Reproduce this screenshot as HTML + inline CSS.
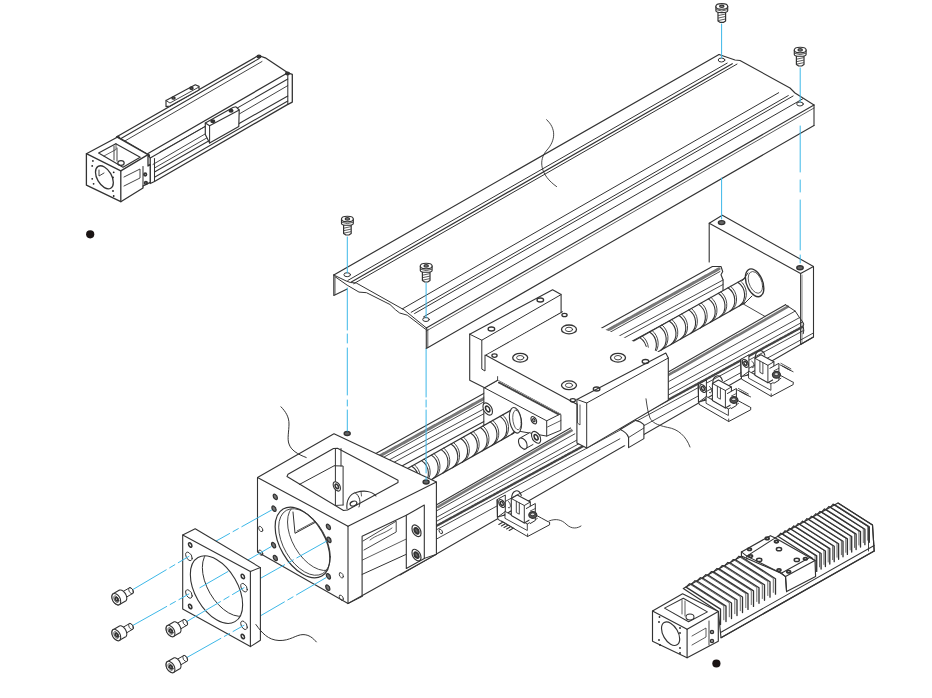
<!DOCTYPE html>
<html><head><meta charset="utf-8"><style>
html,body{margin:0;padding:0;background:#fff;}
body{width:932px;height:698px;overflow:hidden;position:relative;font-family:"Liberation Sans",sans-serif;}
svg{position:absolute;left:0;top:0;}
</style></head><body>
<svg width="932" height="698" viewBox="0 0 932 698" stroke-linecap="round" stroke-linejoin="round">
<path d="M333.8,275.0 L719.0,54.5" stroke="#333" stroke-width="1.2" fill="none"/>
<path d="M347.9,280.4 L727.2,63.1" stroke="#333" stroke-width="1.0" fill="none"/>
<path d="M350.9,282.2 L732.3,63.7" stroke="#333" stroke-width="1.2" fill="none"/>
<path d="M353.7,283.7 L737.0,64.1" stroke="#333" stroke-width="1.0" fill="none"/>
<path d="M402.3,308.9 L778.7,92.7" stroke="#333" stroke-width="1.0" fill="none"/>
<path d="M411.2,312.3 L788.3,95.6" stroke="#333" stroke-width="1.0" fill="none"/>
<path d="M414.6,313.5 L793.1,96.0" stroke="#333" stroke-width="1.0" fill="none"/>
<path d="M423.5,316.9 L802.6,98.9" stroke="#333" stroke-width="1.0" fill="none"/>
<path d="M426.3,331.0 L814.0,108.0" stroke="#333" stroke-width="0.8" fill="none"/>
<path d="M426.3,328.0 L814.0,105.0" stroke="#333" stroke-width="1.1" fill="none"/>
<path d="M814.0,105.0 L814.0,125.5" stroke="#333" stroke-width="1.1" fill="none"/>
<path d="M426.3,328.0 L426.3,348.5" stroke="#333" stroke-width="1.1" fill="none"/>
<path d="M427.8,329.0 L427.8,347.5" stroke="#333" stroke-width="0.8" fill="none"/>
<path d="M426.3,348.5 L814.0,125.5" stroke="#333" stroke-width="1.1" fill="none"/>
<path d="M719.0,54.5 L735.0,60.0 L740.0,60.5 L790.0,88.0 L795.0,93.0 L814.0,105.0" stroke="#333" stroke-width="1.1" fill="none"/>
<path d="M333.8,275.0 L333.8,295.4 L347.2,288.9" stroke="#333" stroke-width="1.1" fill="none"/>
<path d="M335.0,277.0 L335.0,294.3" stroke="#333" stroke-width="0.8" fill="none"/>
<path d="M333.8,275.0 L346.0,280.9 L350.4,282.5 L356.3,283.0 L404.0,309.8 L426.6,328.1" stroke="#333" stroke-width="1.0" fill="none"/>
<path d="M334.8,276.5 L347.2,285.2 L359.0,292.1 L366.5,292.7 L390.0,304.5 L395.5,309.8 L399.7,313.0 L407.3,315.2 L425.5,329.2" stroke="#333" stroke-width="1.0" fill="none"/>
<ellipse cx="347.2" cy="274.7" rx="3.3" ry="2.0" transform="rotate(0 347.2 274.7)" stroke="#333" stroke-width="1.0" fill="none"/>
<ellipse cx="426.0" cy="319.5" rx="3.3" ry="2.0" transform="rotate(0 426.0 319.5)" stroke="#333" stroke-width="1.0" fill="none"/>
<ellipse cx="721.5" cy="60.0" rx="3.3" ry="2.0" transform="rotate(0 721.5 60.0)" stroke="#333" stroke-width="1.0" fill="none"/>
<ellipse cx="800.0" cy="104.0" rx="3.3" ry="2.0" transform="rotate(0 800.0 104.0)" stroke="#333" stroke-width="1.0" fill="none"/>
<path d="M546.6,119.7 C556,128 556,140 547,150 C538,160 540,175 556.6,186.6" stroke="#333" stroke-width="0.9" fill="none"/>
<path d="M709.2,223.2 L722.3,215.2 L813.5,266.5 L813.5,337.0 L800.6,344.5 L709.2,290.0 L709.2,223.2Z" stroke="none" stroke-width="0" fill="#fff"/>
<path d="M709.2,262.0 L709.2,223.2 L722.3,215.2 L813.5,266.5 L813.5,337.0 L800.6,344.5" stroke="#333" stroke-width="1.1" fill="none"/>
<path d="M709.2,223.2 L800.6,273.5 L813.5,266.5" stroke="#333" stroke-width="1.1" fill="none"/>
<path d="M800.6,273.5 L800.6,344.5" stroke="#333" stroke-width="1.0" fill="none"/>
<path d="M802.0,275.0 L802.0,343.0" stroke="#333" stroke-width="0.6" fill="none"/>
<ellipse cx="721.6" cy="222.6" rx="3.2" ry="2.0" transform="rotate(0 721.6 222.6)" stroke="#333" stroke-width="1.4" fill="#666"/>
<ellipse cx="800.0" cy="267.7" rx="3.2" ry="2.0" transform="rotate(0 800.0 267.7)" stroke="#333" stroke-width="1.4" fill="#666"/>
<path d="M330.0,478.9 L712.4,266.5 L721.0,266.5 L722.7,271.5 L721.0,274.7 L723.1,280.0 L723.0,292.0 L330.0,504.9Z" stroke="#333" stroke-width="1.1" fill="#fff"/>
<path d="M330,483.4 L719,268.8" stroke="#777" stroke-width="3.0" stroke-dasharray="1.0 1.0" fill="none"/>
<path d="M330.0,486.9 L720.0,271.5" stroke="#333" stroke-width="0.9" fill="none"/>
<path d="M330.0,491.9 L723.0,280.0" stroke="#333" stroke-width="0.9" fill="none"/>
<path d="M330.0,496.9 L723.0,284.5" stroke="#333" stroke-width="0.9" fill="none"/>
<path d="M742.6,303.6 L765.1,316.5" stroke="#333" stroke-width="0.9" fill="none"/>
<path d="M628.0,344.2 L745.0,278.2 L745.0,302.7 L628.0,368.7Z" stroke="none" stroke-width="0" fill="#fff"/>
<path d="M628.0,344.2 L745.0,278.2" stroke="#333" stroke-width="1.1" fill="none"/>
<path d="M628.0,368.7 L745.0,302.7" stroke="#333" stroke-width="1.1" fill="none"/>
<path d="M630.0,343.1 C638.0,348.5 639.5,360.6 631.5,366.7" stroke="#333" stroke-width="1.1" fill="none"/>
<path d="M632.6,341.6 C639.6,347.0 641.1,359.1 634.1,365.3" stroke="#333" stroke-width="0.9" fill="none"/>
<path d="M639.8,337.6 C647.8,342.9 649.3,355.1 641.3,361.2" stroke="#333" stroke-width="1.1" fill="none"/>
<path d="M642.4,336.1 C649.4,341.5 650.9,353.6 643.9,359.7" stroke="#333" stroke-width="0.9" fill="none"/>
<path d="M649.6,332.0 C657.6,337.4 659.1,349.6 651.1,355.7" stroke="#333" stroke-width="1.1" fill="none"/>
<path d="M652.2,330.6 C659.2,336.0 660.7,348.1 653.7,354.2" stroke="#333" stroke-width="0.9" fill="none"/>
<path d="M659.4,326.5 C667.4,331.9 668.9,344.0 660.9,350.2" stroke="#333" stroke-width="1.1" fill="none"/>
<path d="M662.0,325.0 C669.0,330.4 670.5,342.6 663.5,348.7" stroke="#333" stroke-width="0.9" fill="none"/>
<path d="M669.2,321.0 C677.2,326.4 678.7,338.5 670.7,344.6" stroke="#333" stroke-width="1.1" fill="none"/>
<path d="M671.8,319.5 C678.8,324.9 680.3,337.0 673.3,343.2" stroke="#333" stroke-width="0.9" fill="none"/>
<path d="M679.0,315.5 C687.0,320.8 688.5,333.0 680.5,339.1" stroke="#333" stroke-width="1.1" fill="none"/>
<path d="M681.6,314.0 C688.6,319.4 690.1,331.5 683.1,337.6" stroke="#333" stroke-width="0.9" fill="none"/>
<path d="M688.8,309.9 C696.8,315.3 698.3,327.5 690.3,333.6" stroke="#333" stroke-width="1.1" fill="none"/>
<path d="M691.4,308.5 C698.4,313.8 699.9,326.0 692.9,332.1" stroke="#333" stroke-width="0.9" fill="none"/>
<path d="M698.6,304.4 C706.6,309.8 708.1,321.9 700.1,328.1" stroke="#333" stroke-width="1.1" fill="none"/>
<path d="M701.2,302.9 C708.2,308.3 709.7,320.5 702.7,326.6" stroke="#333" stroke-width="0.9" fill="none"/>
<path d="M708.4,298.9 C716.4,304.3 717.9,316.4 709.9,322.5" stroke="#333" stroke-width="1.1" fill="none"/>
<path d="M711.0,297.4 C718.0,302.8 719.5,314.9 712.5,321.1" stroke="#333" stroke-width="0.9" fill="none"/>
<path d="M718.2,293.3 C726.2,298.7 727.7,310.9 719.7,317.0" stroke="#333" stroke-width="1.1" fill="none"/>
<path d="M720.8,291.9 C727.8,297.3 729.3,309.4 722.3,315.5" stroke="#333" stroke-width="0.9" fill="none"/>
<path d="M728.0,287.8 C736.0,293.2 737.5,305.3 729.5,311.5" stroke="#333" stroke-width="1.1" fill="none"/>
<path d="M730.6,286.3 C737.6,291.7 739.1,303.9 732.1,310.0" stroke="#333" stroke-width="0.9" fill="none"/>
<path d="M737.8,282.3 C745.8,287.7 747.3,299.8 739.3,305.9" stroke="#333" stroke-width="1.1" fill="none"/>
<path d="M740.4,280.8 C747.4,286.2 748.9,298.3 741.9,304.5" stroke="#333" stroke-width="0.9" fill="none"/>
<circle cx="0" cy="0" r="12.80" transform="matrix(0.720 0.420 0.000 1.000 754.6 282.8)" stroke="#333" stroke-width="1.4" fill="#fff" vector-effect="non-scaling-stroke"/>
<circle cx="0" cy="0" r="10.00" transform="matrix(0.720 0.420 0.000 1.000 755.4 282.4)" stroke="#333" stroke-width="0.8" fill="none" vector-effect="non-scaling-stroke"/>
<path d="M742.6,280.5 L748.0,273.0" stroke="#333" stroke-width="1.0" fill="none"/>
<path d="M744.5,303.5 L752.0,296.0" stroke="#333" stroke-width="1.0" fill="none"/>
<path d="M400.0,525.8 L785.5,304.7" stroke="#333" stroke-width="1.1" fill="none"/>
<path d="M438,506.8 L788,306.6" stroke="#777" stroke-width="2.6" stroke-dasharray="1.0 1.0" fill="none"/>
<path d="M785.5,304.7 L795.2,311.1 L799.5,317.6 L802.7,321.9 L803.8,324.0 L803.2,326.2 L803.8,330.5 L803.2,333.7" stroke="#333" stroke-width="1.0" fill="none"/>
<path d="M400.0,531.2 L795.2,311.1" stroke="#333" stroke-width="0.9" fill="none"/>
<path d="M400.0,537.4 L799.5,317.6" stroke="#333" stroke-width="0.9" fill="none"/>
<path d="M400.0,541.2 L802.7,321.9" stroke="#333" stroke-width="0.9" fill="none"/>
<path d="M400,545.7 L803,326.5" stroke="#444" stroke-width="2.4" stroke-dasharray="0.8 1.0" fill="none"/>
<path d="M400.0,549.6 L803.5,330.5" stroke="#333" stroke-width="0.9" fill="none"/>
<path d="M400.0,559.0 L813.4,333.0" stroke="#333" stroke-width="0.9" fill="none"/>
<path d="M400.0,574.9 L813.4,337.0" stroke="#333" stroke-width="1.1" fill="none"/>
<path d="M484.2,387.7 L498.3,380.0 L560.9,413.7 L560.9,430.2 L546.7,436.1 L484.2,425.0Z" stroke="#333" stroke-width="1.0" fill="#fff"/>
<path d="M484.2,387.7 L546.7,420.8 L560.9,413.7" stroke="#333" stroke-width="1.0" fill="none"/>
<path d="M546.7,420.8 L546.7,436.1" stroke="#333" stroke-width="1.0" fill="none"/>
<path d="M547.5,427.0 L560.9,420.5" stroke="#333" stroke-width="0.8" fill="none"/>
<path d="M499,382.5 L559,414.5" stroke="#444" stroke-width="2.0" stroke-dasharray="0.8 1.0" fill="none"/>
<circle cx="0" cy="0" r="5.50" transform="matrix(0.866 0.500 0.000 1.000 487.7 409.0)" stroke="#333" stroke-width="1.1" fill="#fff" vector-effect="non-scaling-stroke"/>
<circle cx="0" cy="0" r="2.60" transform="matrix(0.866 0.500 0.000 1.000 487.7 409.0)" stroke="#333" stroke-width="1.6" fill="none" vector-effect="non-scaling-stroke"/>
<circle cx="0" cy="0" r="3.30" transform="matrix(0.866 0.500 0.000 1.000 533.8 420.2)" stroke="#333" stroke-width="1.1" fill="none" vector-effect="non-scaling-stroke"/>
<circle cx="0" cy="0" r="1.40" transform="matrix(0.866 0.500 0.000 1.000 533.8 420.2)" stroke="#333" stroke-width="1.2" fill="none" vector-effect="non-scaling-stroke"/>
<circle cx="0" cy="0" r="5.30" transform="matrix(0.866 0.500 0.000 1.000 536.1 437.3)" stroke="#333" stroke-width="1.1" fill="#fff" vector-effect="non-scaling-stroke"/>
<circle cx="0" cy="0" r="2.40" transform="matrix(0.866 0.500 0.000 1.000 536.1 437.3)" stroke="#333" stroke-width="1.6" fill="none" vector-effect="non-scaling-stroke"/>
<path d="M521.0,437.5 L530.0,432.5 L533.0,445.0 L524.0,449.5Z" stroke="none" stroke-width="0" fill="#fff"/>
<path d="M521.0,437.5 L530.0,432.5" stroke="#333" stroke-width="1.0" fill="none"/>
<path d="M524.0,449.5 L533.0,444.5" stroke="#333" stroke-width="1.0" fill="none"/>
<circle cx="0" cy="0" r="5.00" transform="matrix(0.866 0.500 0.000 1.000 522.8 443.5)" stroke="#333" stroke-width="1.1" fill="#fff" vector-effect="non-scaling-stroke"/>
<path d="M400.0,472.8 L514.0,408.5 L514.0,433.0 L400.0,497.3Z" stroke="none" stroke-width="0" fill="#fff"/>
<path d="M400.0,472.8 L514.0,408.5" stroke="#333" stroke-width="1.1" fill="none"/>
<path d="M400.0,497.3 L514.0,433.0" stroke="#333" stroke-width="1.1" fill="none"/>
<path d="M402.0,471.7 C410.0,477.1 411.5,489.2 403.5,495.3" stroke="#333" stroke-width="1.1" fill="none"/>
<path d="M404.6,470.2 C411.6,475.6 413.1,487.7 406.1,493.9" stroke="#333" stroke-width="0.9" fill="none"/>
<path d="M411.8,466.2 C419.8,471.5 421.3,483.7 413.3,489.8" stroke="#333" stroke-width="1.1" fill="none"/>
<path d="M414.4,464.7 C421.4,470.1 422.9,482.2 415.9,488.3" stroke="#333" stroke-width="0.9" fill="none"/>
<path d="M421.6,460.6 C429.6,466.0 431.1,478.2 423.1,484.3" stroke="#333" stroke-width="1.1" fill="none"/>
<path d="M424.2,459.2 C431.2,464.5 432.7,476.7 425.7,482.8" stroke="#333" stroke-width="0.9" fill="none"/>
<path d="M431.4,455.1 C439.4,460.5 440.9,472.6 432.9,478.8" stroke="#333" stroke-width="1.1" fill="none"/>
<path d="M434.0,453.6 C441.0,459.0 442.5,471.2 435.5,477.3" stroke="#333" stroke-width="0.9" fill="none"/>
<path d="M441.2,449.6 C449.2,455.0 450.7,467.1 442.7,473.2" stroke="#333" stroke-width="1.1" fill="none"/>
<path d="M443.8,448.1 C450.8,453.5 452.3,465.6 445.3,471.8" stroke="#333" stroke-width="0.9" fill="none"/>
<path d="M451.0,444.0 C459.0,449.4 460.5,461.6 452.5,467.7" stroke="#333" stroke-width="1.1" fill="none"/>
<path d="M453.6,442.6 C460.6,448.0 462.1,460.1 455.1,466.2" stroke="#333" stroke-width="0.9" fill="none"/>
<path d="M460.8,438.5 C468.8,443.9 470.3,456.0 462.3,462.2" stroke="#333" stroke-width="1.1" fill="none"/>
<path d="M463.4,437.0 C470.4,442.4 471.9,454.6 464.9,460.7" stroke="#333" stroke-width="0.9" fill="none"/>
<path d="M470.6,433.0 C478.6,438.4 480.1,450.5 472.1,456.6" stroke="#333" stroke-width="1.1" fill="none"/>
<path d="M473.2,431.5 C480.2,436.9 481.7,449.1 474.7,455.2" stroke="#333" stroke-width="0.9" fill="none"/>
<path d="M480.4,427.5 C488.4,432.9 489.9,445.0 481.9,451.1" stroke="#333" stroke-width="1.1" fill="none"/>
<path d="M483.0,426.0 C490.0,431.4 491.5,443.5 484.5,449.6" stroke="#333" stroke-width="0.9" fill="none"/>
<path d="M490.2,421.9 C498.2,427.3 499.7,439.5 491.7,445.6" stroke="#333" stroke-width="1.1" fill="none"/>
<path d="M492.8,420.5 C499.8,425.9 501.3,438.0 494.3,444.1" stroke="#333" stroke-width="0.9" fill="none"/>
<path d="M500.0,416.4 C508.0,421.8 509.5,433.9 501.5,440.1" stroke="#333" stroke-width="1.1" fill="none"/>
<path d="M502.6,414.9 C509.6,420.3 511.1,432.5 504.1,438.6" stroke="#333" stroke-width="0.9" fill="none"/>
<path d="M509.8,410.9 C517.8,416.3 519.3,428.4 511.3,434.5" stroke="#333" stroke-width="1.1" fill="none"/>
<path d="M512.4,409.4 C519.4,414.8 520.9,426.9 513.9,433.1" stroke="#333" stroke-width="0.9" fill="none"/>
<circle cx="0" cy="0" r="12.30" transform="matrix(0.500 0.290 0.000 1.000 515.5 420.3)" stroke="#333" stroke-width="1.1" fill="#fff" vector-effect="non-scaling-stroke"/>
<circle cx="0" cy="0" r="9.50" transform="matrix(0.450 0.260 0.000 1.000 517.0 420.0)" stroke="#333" stroke-width="0.8" fill="none" vector-effect="non-scaling-stroke"/>
<path d="M485.5,355.1 L562.3,311.7 L667.0,355.5 L667.0,400.0 L576.9,436.0 L560.9,413.7 L498.3,380.0 L484.6,387.7 L484.6,355.1Z" stroke="none" stroke-width="0" fill="#fff"/>
<path d="M485.5,355.1 L562.3,311.7" stroke="#333" stroke-width="1.1" fill="none"/>
<path d="M485.5,355.1 L576.9,404.2" stroke="#333" stroke-width="1.1" fill="none"/>
<path d="M497.6,376.6 L497.6,380.3" stroke="#333" stroke-width="0.9" fill="none"/>
<path d="M469.7,334.2 L552.6,289.7 L561.1,294.6 L561.1,311.7 L485.0,355.1 L485.0,371.0 L481.8,369.1 L484.6,387.7 L469.7,380.3Z" stroke="none" stroke-width="0" fill="#fff"/>
<path d="M469.7,334.2 L552.6,289.7 L561.1,294.6 L561.1,311.7" stroke="#333" stroke-width="1.1" fill="none"/>
<path d="M469.7,334.2 L481.8,340.2 L561.1,294.6" stroke="#333" stroke-width="1.0" fill="none"/>
<path d="M469.7,334.2 L469.7,380.3 L484.6,387.7 L497.6,380.3" stroke="#333" stroke-width="1.1" fill="none"/>
<path d="M481.8,340.2 L481.8,369.1 L485.0,371.0 L485.0,355.1" stroke="#333" stroke-width="1.0" fill="none"/>
<ellipse cx="491.4" cy="329.0" rx="3.3" ry="2.0" transform="rotate(0 491.4 329.0)" stroke="#333" stroke-width="1.3" fill="none"/>
<ellipse cx="540.3" cy="300.0" rx="3.3" ry="2.0" transform="rotate(0 540.3 300.0)" stroke="#333" stroke-width="1.3" fill="none"/>
<ellipse cx="569.0" cy="329.4" rx="7.5" ry="4.4" transform="rotate(0 569.0 329.4)" stroke="#333" stroke-width="1.3" fill="none"/>
<ellipse cx="569.0" cy="329.4" rx="3.6" ry="2.2" transform="rotate(0 569.0 329.4)" stroke="#333" stroke-width="0.9" fill="none"/>
<ellipse cx="520.2" cy="357.7" rx="7.5" ry="4.4" transform="rotate(0 520.2 357.7)" stroke="#333" stroke-width="1.3" fill="none"/>
<ellipse cx="520.2" cy="357.7" rx="3.6" ry="2.2" transform="rotate(0 520.2 357.7)" stroke="#333" stroke-width="0.9" fill="none"/>
<ellipse cx="618.0" cy="357.7" rx="7.5" ry="4.4" transform="rotate(0 618.0 357.7)" stroke="#333" stroke-width="1.3" fill="none"/>
<ellipse cx="618.0" cy="357.7" rx="3.6" ry="2.2" transform="rotate(0 618.0 357.7)" stroke="#333" stroke-width="0.9" fill="none"/>
<ellipse cx="569.0" cy="385.3" rx="7.5" ry="4.4" transform="rotate(0 569.0 385.3)" stroke="#333" stroke-width="1.3" fill="none"/>
<ellipse cx="569.0" cy="385.3" rx="3.6" ry="2.2" transform="rotate(0 569.0 385.3)" stroke="#333" stroke-width="0.9" fill="none"/>
<ellipse cx="564.5" cy="315.0" rx="2.6" ry="1.7" transform="rotate(0 564.5 315.0)" stroke="#333" stroke-width="1.3" fill="none"/>
<ellipse cx="494.5" cy="355.6" rx="2.6" ry="1.7" transform="rotate(0 494.5 355.6)" stroke="#333" stroke-width="1.3" fill="none"/>
<ellipse cx="572.8" cy="400.3" rx="2.6" ry="1.7" transform="rotate(0 572.8 400.3)" stroke="#333" stroke-width="1.3" fill="none"/>
<path d="M576.9,399.4 L665.8,353.1 L668.3,358.0 L668.3,400.3 L586.7,448.1 L576.9,443.0Z" stroke="#333" stroke-width="1.1" fill="#fff"/>
<path d="M576.9,399.4 L586.7,403.0 L668.3,358.0" stroke="#333" stroke-width="1.0" fill="none"/>
<path d="M586.7,403.0 L586.7,448.1" stroke="#333" stroke-width="1.0" fill="none"/>
<path d="M577.5,404.0 L577.5,423.0 L580.0,425.0 L580.0,405.0" stroke="#333" stroke-width="0.8" fill="none"/>
<ellipse cx="645.5" cy="361.5" rx="3.3" ry="2.0" transform="rotate(0 645.5 361.5)" stroke="#333" stroke-width="1.3" fill="none"/>
<ellipse cx="596.6" cy="389.0" rx="3.3" ry="2.0" transform="rotate(0 596.6 389.0)" stroke="#333" stroke-width="1.3" fill="none"/>
<path d="M620.2,429.5 L635.6,420.4 L643.9,424.6 L643.9,438.6 L628.6,447.6 L620.2,443.0Z" stroke="none" stroke-width="0" fill="#fff"/>
<path d="M620.2,429.5 L635.6,420.4 Q641,421.5 643.9,424.6 L643.9,438.6 L628.6,447.6 L628.6,437.5 Q627,432.5 620.2,429.5" stroke="#333" stroke-width="1.1" fill="none"/>
<path d="M628.6,437.5 L643.9,428.0" stroke="#333" stroke-width="0.9" fill="none"/>
<path d="M646,398.8 C647,406 648,413 650,418 C652,422 656,425 667.6,427.4 C678,429 686,436 690,447" stroke="#333" stroke-width="0.9" fill="none"/>
<path d="M741.5,376.8 L771.2,393.8 L793.2,382.3 L784.9,377.8 L770.9,370.3Z" stroke="#333" stroke-width="1.0" fill="#fff"/>
<path d="M741.5,376.8 L741.5,379.1 L771.2,396.3 L793.2,384.6 L793.2,382.3" stroke="#333" stroke-width="1.0" fill="#fff"/>
<path d="M771.2,393.8 L771.2,396.3" stroke="#333" stroke-width="0.9" fill="none"/>
<path d="M740.9,359.3 L748.9,354.8 L748.9,371.3 L741.5,376.8Z" stroke="#333" stroke-width="1.0" fill="#fff"/>
<path d="M740.9,359.3 L740.9,376.8" stroke="#333" stroke-width="1.0" fill="none"/>
<circle cx="0" cy="0" r="3.60" transform="matrix(0.866 0.500 0.000 1.000 745.4 363.3)" stroke="#333" stroke-width="1.1" fill="#fff" vector-effect="non-scaling-stroke"/>
<circle cx="0" cy="0" r="1.80" transform="matrix(0.866 0.500 0.000 1.000 745.4 363.3)" stroke="#333" stroke-width="1.5" fill="none" vector-effect="non-scaling-stroke"/>
<path d="M748.9,371.3 L770.9,383.8 L770.9,390.3 L748.9,378.3Z" stroke="#333" stroke-width="0.9" fill="#fff"/>
<path d="M770.9,383.8 L780.9,378.3" stroke="#333" stroke-width="0.9" fill="none"/>
<path d="M754.9,358.3 L760.9,354.8 L773.9,361.8 L773.9,379.3 L767.9,382.8 L754.9,375.3Z" stroke="#333" stroke-width="1.05" fill="#fff"/>
<path d="M754.9,358.3 L767.9,365.3 L773.9,361.8" stroke="#333" stroke-width="0.95" fill="none"/>
<path d="M767.9,365.3 L767.9,382.8" stroke="#333" stroke-width="0.95" fill="none"/>
<path d="M759.9,361.1 L759.9,372.3 L762.9,374.0 L762.9,362.8" stroke="#333" stroke-width="0.9" fill="none"/>
<path d="M769.9,368.3 L778.9,363.3 L778.9,380.3 L773.9,383.3" stroke="#333" stroke-width="1.0" fill="#fff"/>
<path d="M773.9,370.8 L778.9,368.3" stroke="#333" stroke-width="0.8" fill="none"/>
<path d="M755.4,358.3 C754.9,350.3 762.9,347.3 764.9,355.3" stroke="#333" stroke-width="1.1" fill="none"/>
<path d="M751.9,361.3 L752.3,361.6 L752.7,362.0 L753.1,362.5 L753.4,363.0 L753.6,363.6 L753.8,364.3 L754.0,364.9 L754.0,365.5 L754.0,366.1 L753.8,366.6 L753.6,367.0 L753.4,367.3 L753.1,367.5 L752.7,367.5 L752.3,367.5 L751.9,367.3" stroke="#333" stroke-width="1.0" fill="none"/>
<ellipse cx="776.4" cy="374.8" rx="4.0" ry="3.4" transform="rotate(0 776.4 374.8)" stroke="#333" stroke-width="1.2" fill="#555"/>
<ellipse cx="776.4" cy="374.1" rx="2.4" ry="1.4" transform="rotate(0 776.4 374.1)" stroke="#333" stroke-width="0.9" fill="#ddd"/>
<line x1="779.9" y1="364.8" x2="785.9" y2="367.8" stroke="#333" stroke-width="0.9"/>
<line x1="782.3" y1="366.1" x2="788.3" y2="369.1" stroke="#333" stroke-width="0.9"/>
<line x1="784.7" y1="367.4" x2="790.7" y2="370.4" stroke="#333" stroke-width="0.9"/>
<line x1="787.1" y1="368.7" x2="793.1" y2="371.7" stroke="#333" stroke-width="0.9"/>
<path d="M780.9,363.3 L790.9,368.8" stroke="#333" stroke-width="0.8" fill="none"/>
<path d="M699.0,402.0 L728.7,419.0 L750.7,407.5 L742.4,403.0 L728.4,395.5Z" stroke="#333" stroke-width="1.0" fill="#fff"/>
<path d="M699.0,402.0 L699.0,404.3 L728.7,421.5 L750.7,409.8 L750.7,407.5" stroke="#333" stroke-width="1.0" fill="#fff"/>
<path d="M728.7,419.0 L728.7,421.5" stroke="#333" stroke-width="0.9" fill="none"/>
<path d="M698.4,384.5 L706.4,380.0 L706.4,396.5 L699.0,402.0Z" stroke="#333" stroke-width="1.0" fill="#fff"/>
<path d="M698.4,384.5 L698.4,402.0" stroke="#333" stroke-width="1.0" fill="none"/>
<circle cx="0" cy="0" r="3.60" transform="matrix(0.866 0.500 0.000 1.000 702.9 388.5)" stroke="#333" stroke-width="1.1" fill="#fff" vector-effect="non-scaling-stroke"/>
<circle cx="0" cy="0" r="1.80" transform="matrix(0.866 0.500 0.000 1.000 702.9 388.5)" stroke="#333" stroke-width="1.5" fill="none" vector-effect="non-scaling-stroke"/>
<path d="M706.4,396.5 L728.4,409.0 L728.4,415.5 L706.4,403.5Z" stroke="#333" stroke-width="0.9" fill="#fff"/>
<path d="M728.4,409.0 L738.4,403.5" stroke="#333" stroke-width="0.9" fill="none"/>
<path d="M712.4,383.5 L718.4,380.0 L731.4,387.0 L731.4,404.5 L725.4,408.0 L712.4,400.5Z" stroke="#333" stroke-width="1.05" fill="#fff"/>
<path d="M712.4,383.5 L725.4,390.5 L731.4,387.0" stroke="#333" stroke-width="0.95" fill="none"/>
<path d="M725.4,390.5 L725.4,408.0" stroke="#333" stroke-width="0.95" fill="none"/>
<path d="M717.4,386.3 L717.4,397.5 L720.4,399.2 L720.4,388.0" stroke="#333" stroke-width="0.9" fill="none"/>
<path d="M727.4,393.5 L736.4,388.5 L736.4,405.5 L731.4,408.5" stroke="#333" stroke-width="1.0" fill="#fff"/>
<path d="M731.4,396.0 L736.4,393.5" stroke="#333" stroke-width="0.8" fill="none"/>
<path d="M712.9,383.5 C712.4,375.5 720.4,372.5 722.4,380.5" stroke="#333" stroke-width="1.1" fill="none"/>
<path d="M709.4,386.5 L709.8,386.8 L710.2,387.2 L710.6,387.7 L710.9,388.2 L711.1,388.8 L711.3,389.5 L711.5,390.1 L711.5,390.7 L711.5,391.3 L711.3,391.8 L711.1,392.2 L710.9,392.5 L710.6,392.7 L710.2,392.7 L709.8,392.7 L709.4,392.5" stroke="#333" stroke-width="1.0" fill="none"/>
<ellipse cx="733.9" cy="400.0" rx="4.0" ry="3.4" transform="rotate(0 733.9 400.0)" stroke="#333" stroke-width="1.2" fill="#555"/>
<ellipse cx="733.9" cy="399.3" rx="2.4" ry="1.4" transform="rotate(0 733.9 399.3)" stroke="#333" stroke-width="0.9" fill="#ddd"/>
<line x1="737.4" y1="390.0" x2="743.4" y2="393.0" stroke="#333" stroke-width="0.9"/>
<line x1="739.8" y1="391.3" x2="745.8" y2="394.3" stroke="#333" stroke-width="0.9"/>
<line x1="742.2" y1="392.6" x2="748.2" y2="395.6" stroke="#333" stroke-width="0.9"/>
<line x1="744.6" y1="393.9" x2="750.6" y2="396.9" stroke="#333" stroke-width="0.9"/>
<path d="M738.4,388.5 L748.4,394.0" stroke="#333" stroke-width="0.8" fill="none"/>
<path d="M497.9,517.0 L527.6,534.0 L549.6,522.5 L541.3,518.0 L527.3,510.5Z" stroke="#333" stroke-width="1.0" fill="#fff"/>
<path d="M497.9,517.0 L497.9,519.3 L527.6,536.5 L549.6,524.8 L549.6,522.5" stroke="#333" stroke-width="1.0" fill="#fff"/>
<path d="M527.6,534.0 L527.6,536.5" stroke="#333" stroke-width="0.9" fill="none"/>
<path d="M497.3,499.5 L505.3,495.0 L505.3,511.5 L497.9,517.0Z" stroke="#333" stroke-width="1.0" fill="#fff"/>
<path d="M497.3,499.5 L497.3,517.0" stroke="#333" stroke-width="1.0" fill="none"/>
<circle cx="0" cy="0" r="3.60" transform="matrix(0.866 0.500 0.000 1.000 501.8 503.5)" stroke="#333" stroke-width="1.1" fill="#fff" vector-effect="non-scaling-stroke"/>
<circle cx="0" cy="0" r="1.80" transform="matrix(0.866 0.500 0.000 1.000 501.8 503.5)" stroke="#333" stroke-width="1.5" fill="none" vector-effect="non-scaling-stroke"/>
<path d="M505.3,511.5 L527.3,524.0 L527.3,530.5 L505.3,518.5Z" stroke="#333" stroke-width="0.9" fill="#fff"/>
<path d="M527.3,524.0 L537.3,518.5" stroke="#333" stroke-width="0.9" fill="none"/>
<path d="M511.3,498.5 L517.3,495.0 L530.3,502.0 L530.3,519.5 L524.3,523.0 L511.3,515.5Z" stroke="#333" stroke-width="1.05" fill="#fff"/>
<path d="M511.3,498.5 L524.3,505.5 L530.3,502.0" stroke="#333" stroke-width="0.95" fill="none"/>
<path d="M524.3,505.5 L524.3,523.0" stroke="#333" stroke-width="0.95" fill="none"/>
<path d="M516.3,501.3 L516.3,512.5 L519.3,514.2 L519.3,503.0" stroke="#333" stroke-width="0.9" fill="none"/>
<path d="M526.3,508.5 L535.3,503.5 L535.3,520.5 L530.3,523.5" stroke="#333" stroke-width="1.0" fill="#fff"/>
<path d="M530.3,511.0 L535.3,508.5" stroke="#333" stroke-width="0.8" fill="none"/>
<path d="M511.8,498.5 C511.3,490.5 519.3,487.5 521.3,495.5" stroke="#333" stroke-width="1.1" fill="none"/>
<path d="M508.3,501.5 L508.7,501.8 L509.1,502.2 L509.5,502.7 L509.8,503.2 L510.0,503.8 L510.2,504.5 L510.4,505.1 L510.4,505.7 L510.4,506.3 L510.2,506.8 L510.0,507.2 L509.8,507.5 L509.5,507.7 L509.1,507.7 L508.7,507.7 L508.3,507.5" stroke="#333" stroke-width="1.0" fill="none"/>
<ellipse cx="532.8" cy="515.0" rx="4.0" ry="3.4" transform="rotate(0 532.8 515.0)" stroke="#333" stroke-width="1.2" fill="#555"/>
<ellipse cx="532.8" cy="514.3" rx="2.4" ry="1.4" transform="rotate(0 532.8 514.3)" stroke="#333" stroke-width="0.9" fill="#ddd"/>
<line x1="502.3" y1="522.5" x2="498.8" y2="524.5" stroke="#333" stroke-width="1.1"/>
<line x1="504.9" y1="524.0" x2="501.4" y2="526.0" stroke="#333" stroke-width="1.1"/>
<line x1="507.5" y1="525.5" x2="504.0" y2="527.5" stroke="#333" stroke-width="1.1"/>
<line x1="510.1" y1="527.0" x2="506.6" y2="529.0" stroke="#333" stroke-width="1.1"/>
<line x1="512.7" y1="528.5" x2="509.2" y2="530.5" stroke="#333" stroke-width="1.1"/>
<path d="M501.8,521.0 L514.3,528.5" stroke="#333" stroke-width="0.9" fill="none"/>
<path d="M549,521 C556,518 562,520 566,524 C572,530 578,528 581,526" stroke="#333" stroke-width="0.9" fill="none"/>
<path d="M257.5,477.5 L334.0,433.8 L436.4,482.0 L436.4,554.3 L348.0,603.5 L257.5,552.0Z" stroke="#333" stroke-width="1.1" fill="#fff"/>
<path d="M257.5,477.5 L348.0,526.2 L436.4,482.0" stroke="#333" stroke-width="1.1" fill="none"/>
<path d="M348.0,526.2 L348.0,603.5" stroke="#333" stroke-width="1.1" fill="none"/>
<path d="M288.0,474.3 L333.5,448.5 L337.5,448.3 L398.0,480.2 L398.0,482.5 L347.5,510.0 L343.5,510.5 L287.0,476.5Z" stroke="#333" stroke-width="1.1" fill="none"/>
<path d="M299.3,484.5 L334.1,465.8" stroke="#333" stroke-width="1.0" fill="none"/>
<path d="M335.4,448.5 L335.4,505.5" stroke="#333" stroke-width="1.0" fill="none"/>
<path d="M341.0,448.5 L341.0,466.0" stroke="#333" stroke-width="1.0" fill="none"/>
<path d="M334.5,465.8 L343.1,466.0 L343.1,505.0" stroke="#333" stroke-width="1.0" fill="none"/>
<path d="M335.4,505.5 L343.1,505.0" stroke="#333" stroke-width="0.9" fill="none"/>
<circle cx="0" cy="0" r="4.20" transform="matrix(0.866 0.500 0.000 1.000 336.8 486.4)" stroke="#333" stroke-width="1.1" fill="#fff" vector-effect="non-scaling-stroke"/>
<circle cx="0" cy="0" r="2.00" transform="matrix(0.866 0.500 0.000 1.000 336.8 486.4)" stroke="#333" stroke-width="1.6" fill="none" vector-effect="non-scaling-stroke"/>
<path d="M347,509 C346,500 350,494 356,492.5 C364,490 372,491 376,496" stroke="#333" stroke-width="1.1" fill="none"/>
<path d="M355,492.6 C360,496 361,502 359,507" stroke="#333" stroke-width="1.0" fill="none"/>
<ellipse cx="353.5" cy="503.6" rx="3.5" ry="2.3" transform="rotate(-20 353.5 503.6)" stroke="#333" stroke-width="1.2" fill="none"/>
<path d="M361.0,491.5 L361.5,496.0" stroke="#333" stroke-width="0.8" fill="none"/>
<path d="M362.1,596.5 L362.1,536.3 L406.3,515.2" stroke="#333" stroke-width="1.1" fill="none"/>
<path d="M348.0,603.5 L362.1,596.5" stroke="#333" stroke-width="1.0" fill="none"/>
<path d="M362.1,574.4 L406.3,554.3" stroke="#333" stroke-width="1.0" fill="none"/>
<path d="M363.0,541.0 L396.2,521.2 L396.2,532.0 L364.0,550.0" stroke="#333" stroke-width="0.9" fill="none"/>
<path d="M370,540 C376,535 384,534 392,528" stroke="#333" stroke-width="0.8" fill="none"/>
<path d="M362.5,560.0 L406.3,539.0" stroke="#333" stroke-width="0.8" fill="none"/>
<path d="M406.3,568.4 L406.3,515.2 L424.3,505.1 L424.3,558.4 L406.3,568.4" stroke="#333" stroke-width="1.1" fill="#fff"/>
<path d="M424.3,558.4 L436.4,554.3" stroke="#333" stroke-width="1.0" fill="none"/>
<circle cx="0" cy="0" r="5.20" transform="matrix(0.866 0.500 0.000 1.000 416.5 530.8)" stroke="#333" stroke-width="1.2" fill="#fff" vector-effect="non-scaling-stroke"/>
<circle cx="0" cy="0" r="2.60" transform="matrix(0.866 0.500 0.000 1.000 416.5 530.8)" stroke="#333" stroke-width="2.0" fill="#666" vector-effect="non-scaling-stroke"/>
<circle cx="0" cy="0" r="5.20" transform="matrix(0.866 0.500 0.000 1.000 416.5 555.1)" stroke="#333" stroke-width="1.2" fill="#fff" vector-effect="non-scaling-stroke"/>
<circle cx="0" cy="0" r="2.60" transform="matrix(0.866 0.500 0.000 1.000 416.5 555.1)" stroke="#333" stroke-width="2.0" fill="#666" vector-effect="non-scaling-stroke"/>
<circle cx="0" cy="0" r="2.00" transform="matrix(0.866 0.500 0.000 1.000 440.8 531.5)" stroke="#333" stroke-width="1.0" fill="none" vector-effect="non-scaling-stroke"/>
<circle cx="0" cy="0" r="31.60" transform="matrix(0.866 0.500 0.000 1.000 302.5 542.5)" stroke="#333" stroke-width="1.2" fill="none" vector-effect="non-scaling-stroke"/>
<circle cx="0" cy="0" r="29.80" transform="matrix(0.866 0.500 0.000 1.000 304.5 542.0)" stroke="#333" stroke-width="0.9" fill="none" vector-effect="non-scaling-stroke"/>
<clipPath id="mbore"><circle cx="0" cy="0" r="29.8" transform="matrix(0.866 0.5 0 1 304.5 542.0)"/></clipPath>
<g clip-path="url(#mbore)">
<circle cx="0" cy="0" r="30.00" transform="matrix(0.866 0.500 0.000 1.000 313.5 537.0)" stroke="#333" stroke-width="0.9" fill="none" vector-effect="non-scaling-stroke"/>
<path d="M293.0,512.0 L295.0,533.3 L315.0,522.5" stroke="#333" stroke-width="1.0" fill="none"/>
<path d="M297.0,531.0 L315.0,521.3" stroke="#333" stroke-width="0.8" fill="none"/>
</g>
<circle cx="0" cy="0" r="2.40" transform="matrix(0.866 0.500 0.000 1.000 275.3 496.9)" stroke="#333" stroke-width="1.3" fill="#777" vector-effect="non-scaling-stroke"/>
<circle cx="0" cy="0" r="2.40" transform="matrix(0.866 0.500 0.000 1.000 274.0 508.7)" stroke="#333" stroke-width="1.3" fill="#777" vector-effect="non-scaling-stroke"/>
<circle cx="0" cy="0" r="2.40" transform="matrix(0.866 0.500 0.000 1.000 328.4 526.9)" stroke="#333" stroke-width="1.3" fill="#777" vector-effect="non-scaling-stroke"/>
<circle cx="0" cy="0" r="2.40" transform="matrix(0.866 0.500 0.000 1.000 329.0 539.8)" stroke="#333" stroke-width="1.3" fill="#777" vector-effect="non-scaling-stroke"/>
<circle cx="0" cy="0" r="2.40" transform="matrix(0.866 0.500 0.000 1.000 273.6 545.2)" stroke="#333" stroke-width="1.3" fill="#777" vector-effect="non-scaling-stroke"/>
<circle cx="0" cy="0" r="2.40" transform="matrix(0.866 0.500 0.000 1.000 275.3 558.0)" stroke="#333" stroke-width="1.3" fill="#777" vector-effect="non-scaling-stroke"/>
<circle cx="0" cy="0" r="2.40" transform="matrix(0.866 0.500 0.000 1.000 328.4 576.3)" stroke="#333" stroke-width="1.3" fill="#777" vector-effect="non-scaling-stroke"/>
<circle cx="0" cy="0" r="2.40" transform="matrix(0.866 0.500 0.000 1.000 327.8 587.7)" stroke="#333" stroke-width="1.3" fill="#777" vector-effect="non-scaling-stroke"/>
<circle cx="0" cy="0" r="2.40" transform="matrix(0.866 0.500 0.000 1.000 260.7 529.0)" stroke="#333" stroke-width="0.9" fill="none" vector-effect="non-scaling-stroke"/>
<circle cx="0" cy="0" r="2.40" transform="matrix(0.866 0.500 0.000 1.000 260.7 552.7)" stroke="#333" stroke-width="0.9" fill="none" vector-effect="non-scaling-stroke"/>
<circle cx="0" cy="0" r="2.40" transform="matrix(0.866 0.500 0.000 1.000 341.3 575.3)" stroke="#333" stroke-width="0.9" fill="none" vector-effect="non-scaling-stroke"/>
<circle cx="0" cy="0" r="2.40" transform="matrix(0.866 0.500 0.000 1.000 341.3 597.8)" stroke="#333" stroke-width="0.9" fill="none" vector-effect="non-scaling-stroke"/>
<ellipse cx="347.2" cy="433.5" rx="3.0" ry="2.0" transform="rotate(0 347.2 433.5)" stroke="#333" stroke-width="1.4" fill="#666"/>
<ellipse cx="426.1" cy="482.0" rx="3.0" ry="2.0" transform="rotate(0 426.1 482.0)" stroke="#333" stroke-width="1.4" fill="#666"/>
<path d="M281,406.8 C286,412 289,417 289,424 C289,431 287,439 289,444 C291,450 297,454 306.2,457.5" stroke="#333" stroke-width="1.0" fill="none"/>
<line x1="199.9" y1="550.1" x2="274.0" y2="508.7" stroke="#3db8e8" stroke-width="1.0" stroke-dasharray="34,4,6,4"/>
<line x1="199.9" y1="587.7" x2="273.6" y2="545.2" stroke="#3db8e8" stroke-width="1.0" stroke-dasharray="34,4,6,4"/>
<line x1="255.0" y1="581.4" x2="329.0" y2="539.8" stroke="#3db8e8" stroke-width="1.0" stroke-dasharray="34,4,6,4"/>
<line x1="255.0" y1="619.0" x2="328.4" y2="576.3" stroke="#3db8e8" stroke-width="1.0" stroke-dasharray="34,4,6,4"/>
<path d="M182.7,535.0 L195.2,528.8 L260.4,567.6 L260.4,640.3 L250.4,646.6 L182.7,609.0Z" stroke="#333" stroke-width="1.1" fill="#fff"/>
<path d="M182.7,535.0 L250.4,571.4 L260.4,567.6" stroke="#333" stroke-width="1.1" fill="none"/>
<path d="M250.4,571.4 L250.4,646.6" stroke="#333" stroke-width="1.1" fill="none"/>
<circle cx="0" cy="0" r="30.20" transform="matrix(0.866 0.500 0.000 1.000 216.5 589.6)" stroke="#333" stroke-width="1.1" fill="none" vector-effect="non-scaling-stroke"/>
<clipPath id="bore2"><circle cx="0" cy="0" r="30" transform="matrix(0.866 0.5 0 1 216.5 589.6)"/></clipPath>
<g clip-path="url(#bore2)">
<circle cx="0" cy="0" r="30.20" transform="matrix(0.866 0.500 0.000 1.000 228.5 582.6)" stroke="#333" stroke-width="1.0" fill="none" vector-effect="non-scaling-stroke"/>
</g>
<circle cx="0" cy="0" r="3.80" transform="matrix(0.866 0.500 0.000 1.000 188.9 556.4)" stroke="#333" stroke-width="1.0" fill="none" vector-effect="non-scaling-stroke"/>
<circle cx="0" cy="0" r="3.80" transform="matrix(0.866 0.500 0.000 1.000 188.9 594.0)" stroke="#333" stroke-width="1.0" fill="none" vector-effect="non-scaling-stroke"/>
<circle cx="0" cy="0" r="3.80" transform="matrix(0.866 0.500 0.000 1.000 244.0 587.7)" stroke="#333" stroke-width="1.0" fill="none" vector-effect="non-scaling-stroke"/>
<circle cx="0" cy="0" r="3.80" transform="matrix(0.866 0.500 0.000 1.000 244.0 625.3)" stroke="#333" stroke-width="1.0" fill="none" vector-effect="non-scaling-stroke"/>
<circle cx="0" cy="0" r="2.00" transform="matrix(0.866 0.500 0.000 1.000 190.2 545.0)" stroke="#333" stroke-width="1.5" fill="none" vector-effect="non-scaling-stroke"/>
<circle cx="0" cy="0" r="2.00" transform="matrix(0.866 0.500 0.000 1.000 190.2 606.5)" stroke="#333" stroke-width="1.5" fill="none" vector-effect="non-scaling-stroke"/>
<circle cx="0" cy="0" r="2.00" transform="matrix(0.866 0.500 0.000 1.000 242.8 576.4)" stroke="#333" stroke-width="1.5" fill="none" vector-effect="non-scaling-stroke"/>
<circle cx="0" cy="0" r="2.00" transform="matrix(0.866 0.500 0.000 1.000 242.8 636.5)" stroke="#333" stroke-width="1.5" fill="none" vector-effect="non-scaling-stroke"/>
<path d="M255.9,624.5 C262,633 268,640 279,640.5 C290,641 296,634.6 303,634.6 C309,634.6 313,638 316.3,641.9" stroke="#333" stroke-width="1.0" fill="none"/>
<clipPath id="bore"><circle cx="0" cy="0" r="28.5" transform="matrix(0.866 0.5 0 1 216.5 589.6)"/></clipPath>
<g clip-path="url(#bore)">
<line x1="199.9" y1="550.1" x2="274.0" y2="508.7" stroke="#3db8e8" stroke-width="1.0" stroke-dasharray="34,4,6,4"/>
<line x1="199.9" y1="587.7" x2="273.6" y2="545.2" stroke="#3db8e8" stroke-width="1.0" stroke-dasharray="34,4,6,4"/>
<line x1="255.0" y1="581.4" x2="329.0" y2="539.8" stroke="#3db8e8" stroke-width="1.0" stroke-dasharray="34,4,6,4"/>
<line x1="255.0" y1="619.0" x2="328.4" y2="576.3" stroke="#3db8e8" stroke-width="1.0" stroke-dasharray="34,4,6,4"/>
</g>
<line x1="131.8" y1="590.2" x2="188.9" y2="556.4" stroke="#3db8e8" stroke-width="1.0" stroke-dasharray="40,4,6,4"/>
<line x1="131.8" y1="626.0" x2="188.9" y2="594.0" stroke="#3db8e8" stroke-width="1.0" stroke-dasharray="40,4,6,4"/>
<line x1="186.0" y1="622.0" x2="244.0" y2="587.7" stroke="#3db8e8" stroke-width="1.0" stroke-dasharray="40,4,6,4"/>
<line x1="186.0" y1="658.0" x2="244.0" y2="625.3" stroke="#3db8e8" stroke-width="1.0" stroke-dasharray="40,4,6,4"/>
<path d="M119.6,594.6 L119.6,594.1 L119.7,593.8 L119.9,593.4 L120.1,593.2 L120.4,593.0 L129.5,587.8 L129.8,587.7 L130.2,587.7 L130.6,587.8 L131.0,588.0 L131.4,588.3 L131.8,588.6 L132.2,589.0 L132.5,589.5 L132.8,590.0 L133.1,590.5 L133.2,591.0 L133.3,591.6 L133.4,592.0 L133.3,592.5 L133.2,592.9 L133.1,593.2 L132.8,593.5 L132.5,593.6 L123.4,598.9 L123.1,599.0 L122.7,599.0 L122.3,598.8 L121.9,598.6 L121.5,598.4 L121.1,598.0 L120.8,597.6 L120.4,597.1 L120.1,596.6 L119.9,596.1 L119.7,595.6 L119.6,595.1Z" stroke="#333" stroke-width="1.0" fill="#fff"/>
<circle cx="0" cy="0" r="2.70" transform="matrix(0.866 0.500 0.000 1.000 131.0 590.7)" stroke="#333" stroke-width="0.9" fill="none" vector-effect="non-scaling-stroke"/>
<path d="M111.9,596.6 L112.0,595.8 L112.2,595.1 L112.5,594.4 L112.9,594.0 L113.5,593.6 L119.5,590.1 L120.2,590.0 L120.8,590.0 L121.6,590.2 L122.4,590.6 L123.1,591.1 L123.9,591.8 L124.6,592.6 L125.2,593.4 L125.8,594.4 L126.2,595.4 L126.5,596.4 L126.7,597.3 L126.8,598.2 L126.7,599.1 L126.5,599.8 L126.2,600.5 L125.8,600.9 L125.2,601.2 L119.1,604.8 L118.5,604.9 L117.8,604.9 L117.1,604.7 L116.3,604.3 L115.5,603.8 L114.8,603.1 L114.1,602.3 L113.5,601.5 L112.9,600.5 L112.5,599.5 L112.2,598.5 L112.0,597.6Z" stroke="#333" stroke-width="1.1" fill="#fff"/>
<circle cx="0" cy="0" r="5.10" transform="matrix(0.866 0.500 0.000 1.000 116.3 599.2)" stroke="#333" stroke-width="1.1" fill="#fff" vector-effect="non-scaling-stroke"/>
<circle cx="0" cy="0" r="2.90" transform="matrix(0.866 0.500 0.000 1.000 116.3 599.2)" stroke="#333" stroke-width="0.8" fill="none" vector-effect="non-scaling-stroke"/>
<circle cx="0" cy="0" r="1.60" transform="matrix(0.866 0.500 0.000 1.000 116.6 599.2)" stroke="#333" stroke-width="1.7" fill="none" vector-effect="non-scaling-stroke"/>
<path d="M119.6,630.4 L119.6,630.0 L119.7,629.6 L119.9,629.2 L120.1,629.0 L120.4,628.8 L129.5,623.6 L129.8,623.5 L130.2,623.5 L130.6,623.6 L131.0,623.8 L131.4,624.1 L131.8,624.4 L132.2,624.8 L132.5,625.3 L132.8,625.8 L133.1,626.3 L133.2,626.9 L133.3,627.4 L133.4,627.9 L133.3,628.3 L133.2,628.7 L133.1,629.0 L132.8,629.3 L132.5,629.4 L123.4,634.7 L123.1,634.8 L122.7,634.8 L122.3,634.6 L121.9,634.5 L121.5,634.2 L121.1,633.8 L120.8,633.4 L120.4,633.0 L120.1,632.5 L119.9,631.9 L119.7,631.4 L119.6,630.9Z" stroke="#333" stroke-width="1.0" fill="#fff"/>
<circle cx="0" cy="0" r="2.70" transform="matrix(0.866 0.500 0.000 1.000 131.0 626.5)" stroke="#333" stroke-width="0.9" fill="none" vector-effect="non-scaling-stroke"/>
<path d="M111.9,632.5 L112.0,631.6 L112.2,630.9 L112.5,630.2 L112.9,629.8 L113.5,629.5 L119.5,626.0 L120.2,625.8 L120.8,625.8 L121.6,626.0 L122.4,626.4 L123.1,626.9 L123.9,627.6 L124.6,628.4 L125.2,629.2 L125.8,630.2 L126.2,631.2 L126.5,632.1 L126.7,633.1 L126.8,634.0 L126.7,634.9 L126.5,635.6 L126.2,636.3 L125.8,636.7 L125.2,637.0 L119.1,640.5 L118.5,640.7 L117.8,640.7 L117.1,640.5 L116.3,640.1 L115.5,639.6 L114.8,638.9 L114.1,638.1 L113.5,637.3 L112.9,636.3 L112.5,635.3 L112.2,634.4 L112.0,633.4Z" stroke="#333" stroke-width="1.1" fill="#fff"/>
<circle cx="0" cy="0" r="5.10" transform="matrix(0.866 0.500 0.000 1.000 116.3 635.0)" stroke="#333" stroke-width="1.1" fill="#fff" vector-effect="non-scaling-stroke"/>
<circle cx="0" cy="0" r="2.90" transform="matrix(0.866 0.500 0.000 1.000 116.3 635.0)" stroke="#333" stroke-width="0.8" fill="none" vector-effect="non-scaling-stroke"/>
<circle cx="0" cy="0" r="1.60" transform="matrix(0.866 0.500 0.000 1.000 116.6 635.0)" stroke="#333" stroke-width="1.7" fill="none" vector-effect="non-scaling-stroke"/>
<path d="M173.8,626.4 L173.8,626.0 L173.9,625.6 L174.1,625.2 L174.3,625.0 L174.6,624.8 L183.7,619.6 L184.1,619.5 L184.4,619.5 L184.8,619.6 L185.2,619.8 L185.6,620.1 L186.0,620.4 L186.4,620.8 L186.7,621.3 L187.0,621.8 L187.2,622.3 L187.4,622.9 L187.5,623.4 L187.6,623.9 L187.5,624.3 L187.4,624.7 L187.2,625.0 L187.0,625.3 L186.7,625.4 L177.6,630.7 L177.3,630.8 L176.9,630.8 L176.5,630.6 L176.1,630.5 L175.7,630.2 L175.3,629.8 L175.0,629.4 L174.6,629.0 L174.3,628.5 L174.1,627.9 L173.9,627.4 L173.8,626.9Z" stroke="#333" stroke-width="1.0" fill="#fff"/>
<circle cx="0" cy="0" r="2.70" transform="matrix(0.866 0.500 0.000 1.000 185.2 622.5)" stroke="#333" stroke-width="0.9" fill="none" vector-effect="non-scaling-stroke"/>
<path d="M166.1,628.5 L166.2,627.6 L166.3,626.9 L166.7,626.2 L167.1,625.8 L167.7,625.5 L173.7,622.0 L174.3,621.8 L175.1,621.8 L175.8,622.0 L176.6,622.4 L177.3,622.9 L178.1,623.6 L178.8,624.4 L179.4,625.2 L179.9,626.2 L180.4,627.2 L180.7,628.1 L180.9,629.1 L181.0,630.0 L180.9,630.9 L180.7,631.6 L180.4,632.3 L179.9,632.7 L179.4,633.0 L173.3,636.5 L172.7,636.7 L172.0,636.7 L171.3,636.5 L170.5,636.1 L169.7,635.6 L169.0,634.9 L168.3,634.1 L167.7,633.3 L167.1,632.3 L166.7,631.3 L166.3,630.4 L166.2,629.4Z" stroke="#333" stroke-width="1.1" fill="#fff"/>
<circle cx="0" cy="0" r="5.10" transform="matrix(0.866 0.500 0.000 1.000 170.5 631.0)" stroke="#333" stroke-width="1.1" fill="#fff" vector-effect="non-scaling-stroke"/>
<circle cx="0" cy="0" r="2.90" transform="matrix(0.866 0.500 0.000 1.000 170.5 631.0)" stroke="#333" stroke-width="0.8" fill="none" vector-effect="non-scaling-stroke"/>
<circle cx="0" cy="0" r="1.60" transform="matrix(0.866 0.500 0.000 1.000 170.8 631.0)" stroke="#333" stroke-width="1.7" fill="none" vector-effect="non-scaling-stroke"/>
<path d="M173.8,662.4 L173.8,662.0 L173.9,661.6 L174.1,661.2 L174.3,661.0 L174.6,660.8 L183.7,655.6 L184.1,655.5 L184.4,655.5 L184.8,655.6 L185.2,655.8 L185.6,656.1 L186.0,656.4 L186.4,656.8 L186.7,657.3 L187.0,657.8 L187.2,658.3 L187.4,658.9 L187.5,659.4 L187.6,659.9 L187.5,660.3 L187.4,660.7 L187.2,661.0 L187.0,661.3 L186.7,661.4 L177.6,666.7 L177.3,666.8 L176.9,666.8 L176.5,666.6 L176.1,666.5 L175.7,666.2 L175.3,665.8 L175.0,665.4 L174.6,665.0 L174.3,664.5 L174.1,663.9 L173.9,663.4 L173.8,662.9Z" stroke="#333" stroke-width="1.0" fill="#fff"/>
<circle cx="0" cy="0" r="2.70" transform="matrix(0.866 0.500 0.000 1.000 185.2 658.5)" stroke="#333" stroke-width="0.9" fill="none" vector-effect="non-scaling-stroke"/>
<path d="M166.1,664.5 L166.2,663.6 L166.3,662.9 L166.7,662.2 L167.1,661.8 L167.7,661.5 L173.7,658.0 L174.3,657.8 L175.1,657.8 L175.8,658.0 L176.6,658.4 L177.3,658.9 L178.1,659.6 L178.8,660.4 L179.4,661.2 L179.9,662.2 L180.4,663.2 L180.7,664.1 L180.9,665.1 L181.0,666.0 L180.9,666.9 L180.7,667.6 L180.4,668.3 L179.9,668.7 L179.4,669.0 L173.3,672.5 L172.7,672.7 L172.0,672.7 L171.3,672.5 L170.5,672.1 L169.7,671.6 L169.0,670.9 L168.3,670.1 L167.7,669.3 L167.1,668.3 L166.7,667.3 L166.3,666.4 L166.2,665.4Z" stroke="#333" stroke-width="1.1" fill="#fff"/>
<circle cx="0" cy="0" r="5.10" transform="matrix(0.866 0.500 0.000 1.000 170.5 667.0)" stroke="#333" stroke-width="1.1" fill="#fff" vector-effect="non-scaling-stroke"/>
<circle cx="0" cy="0" r="2.90" transform="matrix(0.866 0.500 0.000 1.000 170.5 667.0)" stroke="#333" stroke-width="0.8" fill="none" vector-effect="non-scaling-stroke"/>
<circle cx="0" cy="0" r="1.60" transform="matrix(0.866 0.500 0.000 1.000 170.8 667.0)" stroke="#333" stroke-width="1.7" fill="none" vector-effect="non-scaling-stroke"/>
<path d="M718.0,12.1 L718.0,20.9 L720.3,22.4 L723.3,22.4 L725.6,20.9 L725.6,12.1Z" stroke="#333" stroke-width="1.2" fill="#fff"/>
<line x1="718.6" y1="15.5" x2="725.0" y2="14.1" stroke="#333" stroke-width="0.8"/>
<line x1="718.6" y1="18.0" x2="725.0" y2="16.6" stroke="#333" stroke-width="0.8"/>
<line x1="718.6" y1="20.5" x2="725.0" y2="19.1" stroke="#333" stroke-width="0.8"/>
<path d="M715.9,6.4 L715.9,10.8 Q715.9,12.6 721.8,12.6 Q727.6999999999999,12.6 727.6999999999999,10.8 L727.6999999999999,6.4" stroke="#333" stroke-width="1.15" fill="#fff"/>
<ellipse cx="721.8" cy="6.4" rx="5.9" ry="2.8" transform="rotate(0 721.8 6.4)" stroke="#333" stroke-width="1.15" fill="#fff"/>
<path d="M716.4,9.8 Q721.8,12.4 727.1999999999999,9.8" stroke="#333" stroke-width="0.8" fill="none"/>
<ellipse cx="721.8" cy="6.3" rx="2.2" ry="1.2" transform="rotate(0 721.8 6.3)" stroke="#333" stroke-width="1.2" fill="#888"/>
<path d="M796.4,55.7 L796.4,64.5 L798.7,66.0 L801.7,66.0 L804.0,64.5 L804.0,55.7Z" stroke="#333" stroke-width="1.2" fill="#fff"/>
<line x1="797.0" y1="59.1" x2="803.4" y2="57.7" stroke="#333" stroke-width="0.8"/>
<line x1="797.0" y1="61.6" x2="803.4" y2="60.2" stroke="#333" stroke-width="0.8"/>
<line x1="797.0" y1="64.1" x2="803.4" y2="62.7" stroke="#333" stroke-width="0.8"/>
<path d="M794.3000000000001,50.0 L794.3000000000001,54.4 Q794.3000000000001,56.2 800.2,56.2 Q806.1,56.2 806.1,54.4 L806.1,50.0" stroke="#333" stroke-width="1.15" fill="#fff"/>
<ellipse cx="800.2" cy="50.0" rx="5.9" ry="2.8" transform="rotate(0 800.2 50.0)" stroke="#333" stroke-width="1.15" fill="#fff"/>
<path d="M794.8000000000001,53.4 Q800.2,56.0 805.6,53.4" stroke="#333" stroke-width="0.8" fill="none"/>
<ellipse cx="800.2" cy="49.9" rx="2.2" ry="1.2" transform="rotate(0 800.2 49.9)" stroke="#333" stroke-width="1.2" fill="#888"/>
<path d="M343.6,224.7 L343.6,233.5 L345.9,235.0 L348.9,235.0 L351.2,233.5 L351.2,224.7Z" stroke="#333" stroke-width="1.2" fill="#fff"/>
<line x1="344.2" y1="228.1" x2="350.6" y2="226.7" stroke="#333" stroke-width="0.8"/>
<line x1="344.2" y1="230.6" x2="350.6" y2="229.2" stroke="#333" stroke-width="0.8"/>
<line x1="344.2" y1="233.1" x2="350.6" y2="231.7" stroke="#333" stroke-width="0.8"/>
<path d="M341.5,219.0 L341.5,223.4 Q341.5,225.2 347.4,225.2 Q353.29999999999995,225.2 353.29999999999995,223.4 L353.29999999999995,219.0" stroke="#333" stroke-width="1.15" fill="#fff"/>
<ellipse cx="347.4" cy="219.0" rx="5.9" ry="2.8" transform="rotate(0 347.4 219.0)" stroke="#333" stroke-width="1.15" fill="#fff"/>
<path d="M342.0,222.4 Q347.4,225.0 352.79999999999995,222.4" stroke="#333" stroke-width="0.8" fill="none"/>
<ellipse cx="347.4" cy="218.9" rx="2.2" ry="1.2" transform="rotate(0 347.4 218.9)" stroke="#333" stroke-width="1.2" fill="#888"/>
<path d="M422.4,271.7 L422.4,280.5 L424.7,282.0 L427.7,282.0 L430.0,280.5 L430.0,271.7Z" stroke="#333" stroke-width="1.2" fill="#fff"/>
<line x1="423.0" y1="275.1" x2="429.4" y2="273.7" stroke="#333" stroke-width="0.8"/>
<line x1="423.0" y1="277.6" x2="429.4" y2="276.2" stroke="#333" stroke-width="0.8"/>
<line x1="423.0" y1="280.1" x2="429.4" y2="278.7" stroke="#333" stroke-width="0.8"/>
<path d="M420.3,266.0 L420.3,270.4 Q420.3,272.2 426.2,272.2 Q432.09999999999997,272.2 432.09999999999997,270.4 L432.09999999999997,266.0" stroke="#333" stroke-width="1.15" fill="#fff"/>
<ellipse cx="426.2" cy="266.0" rx="5.9" ry="2.8" transform="rotate(0 426.2 266.0)" stroke="#333" stroke-width="1.15" fill="#fff"/>
<path d="M420.8,269.4 Q426.2,272.0 431.59999999999997,269.4" stroke="#333" stroke-width="0.8" fill="none"/>
<ellipse cx="426.2" cy="265.9" rx="2.2" ry="1.2" transform="rotate(0 426.2 265.9)" stroke="#333" stroke-width="1.2" fill="#888"/>
<line x1="721.6" y1="24.0" x2="721.6" y2="58.0" stroke="#3db8e8" stroke-width="1.0"/>
<line x1="721.6" y1="178.0" x2="721.6" y2="219.0" stroke="#3db8e8" stroke-width="1.0"/>
<line x1="800.2" y1="68.0" x2="800.2" y2="102.0" stroke="#3db8e8" stroke-width="1.0"/>
<line x1="800.2" y1="126.0" x2="800.2" y2="264.0" stroke="#3db8e8" stroke-width="1.0" stroke-dasharray="46,8,12,8,50,5,8,30"/>
<line x1="347.3" y1="237.0" x2="347.3" y2="273.0" stroke="#3db8e8" stroke-width="1.0"/>
<line x1="347.3" y1="288.0" x2="347.3" y2="431.0" stroke="#3db8e8" stroke-width="1.0" stroke-dasharray="42,4,9,5,47,5,6,4,30"/>
<line x1="426.1" y1="283.0" x2="426.1" y2="318.0" stroke="#3db8e8" stroke-width="1.0"/>
<line x1="426.1" y1="349.0" x2="426.1" y2="480.0" stroke="#3db8e8" stroke-width="1.0" stroke-dasharray="48,3,7,3,63,4,6,4,30"/>
<path d="M117.2,136.5 L258.5,55.5 L265.3,57.8 L287.8,72.8 L292.3,74.3 L292.3,102.1 L287.8,104.4 L154.5,181.5 L150.2,183.5 L150.2,158.0 L148.0,154.6Z" stroke="#333" stroke-width="1.30" fill="#fff"/>
<path d="M121.0,138.5 L259.2,58.5" stroke="#333" stroke-width="1.04" fill="none"/>
<path d="M124.0,141.5 L262.0,61.5" stroke="#333" stroke-width="0.91" fill="none"/>
<path d="M148.0,153.5 L287.8,72.8" stroke="#333" stroke-width="1.30" fill="none"/>
<path d="M150.2,158.0 L287.8,79.0" stroke="#333" stroke-width="1.04" fill="none"/>
<path d="M153.0,164.4 L287.8,85.6" stroke="#333" stroke-width="0.91" fill="none"/>
<path d="M154.5,168.0 L238.0,120.0" stroke="#333" stroke-width="0.91" fill="none"/>
<path d="M154.5,158.5 L154.5,181.5" stroke="#333" stroke-width="1.04" fill="none"/>
<path d="M154.5,172.0 L240.0,123.0 L287.8,96.0" stroke="#333" stroke-width="1.04" fill="none"/>
<path d="M154.5,177.3 L287.8,101.0" stroke="#333" stroke-width="1.04" fill="none"/>
<path d="M287.8,72.8 L287.8,104.4" stroke="#333" stroke-width="1.04" fill="none"/>
<path d="M160.0,152.0 L206.0,126.0" stroke="#333" stroke-width="0.78" fill="none"/>
<path d="M205.3,123.0 L233.0,107.5 L236.0,106.8 L239.2,110.0 L238.8,126.5 L209.6,143.1 L205.3,134.4Z" stroke="#333" stroke-width="1.17" fill="#fff"/>
<path d="M205.3,123.0 L209.6,125.8 L239.2,110.0" stroke="#333" stroke-width="1.04" fill="none"/>
<path d="M209.6,125.8 L209.6,143.1" stroke="#333" stroke-width="1.04" fill="none"/>
<ellipse cx="212.8" cy="121.2" rx="1.6" ry="1.0" transform="rotate(0 212.8 121.2)" stroke="#333" stroke-width="1.95" fill="none"/>
<ellipse cx="231.0" cy="110.8" rx="1.6" ry="1.0" transform="rotate(0 231.0 110.8)" stroke="#333" stroke-width="1.95" fill="none"/>
<path d="M166.0,100.6 L195.3,84.8 L199.0,86.4 L199.0,90.0 L170.0,106.0 L166.0,106.7Z" stroke="#333" stroke-width="1.17" fill="#fff"/>
<path d="M166.0,100.6 L170.0,103.0 L199.0,87.0" stroke="#333" stroke-width="0.91" fill="none"/>
<ellipse cx="173.5" cy="98.0" rx="1.4" ry="1.0" transform="rotate(0 173.5 98.0)" stroke="#333" stroke-width="1.69" fill="none"/>
<ellipse cx="191.5" cy="88.2" rx="1.4" ry="1.0" transform="rotate(0 191.5 88.2)" stroke="#333" stroke-width="1.69" fill="none"/>
<ellipse cx="259.0" cy="56.5" rx="1.8" ry="1.2" transform="rotate(0 259.0 56.5)" stroke="#333" stroke-width="1.56" fill="#333"/>
<ellipse cx="287.5" cy="73.5" rx="1.8" ry="1.2" transform="rotate(0 287.5 73.5)" stroke="#333" stroke-width="1.56" fill="#333"/>
<ellipse cx="117.8" cy="137.5" rx="1.5" ry="1.0" transform="rotate(0 117.8 137.5)" stroke="#333" stroke-width="1.30" fill="#333"/>
<ellipse cx="148.0" cy="155.5" rx="1.5" ry="1.0" transform="rotate(0 148.0 155.5)" stroke="#333" stroke-width="1.30" fill="#333"/>
<path d="M86.4,153.7 L117.2,137.2 L148.0,154.6 L148.0,166.0 L150.2,164.4 L150.2,182.3 L143.0,186.0 L143.0,188.0 L120.8,201.7 L86.4,185.2Z" stroke="#333" stroke-width="1.30" fill="#fff"/>
<path d="M86.4,153.7 L120.8,170.9 L148.0,154.6" stroke="#333" stroke-width="1.30" fill="none"/>
<path d="M120.8,170.9 L120.8,201.7" stroke="#333" stroke-width="1.30" fill="none"/>
<path d="M98.6,153.0 L115.8,143.7 L140.2,157.3 L123.0,167.3Z" stroke="#333" stroke-width="1.17" fill="none"/>
<path d="M104.0,156.0 L116.0,149.5 L116.0,143.7" stroke="#333" stroke-width="0.78" fill="none"/>
<path d="M114.0,146.0 L114.0,160.0" stroke="#333" stroke-width="0.91" fill="none"/>
<path d="M117.0,148.0 L117.0,161.0" stroke="#333" stroke-width="0.91" fill="none"/>
<ellipse cx="121.0" cy="163.0" rx="3.2" ry="2.4" transform="rotate(0 121.0 163.0)" stroke="#333" stroke-width="1.17" fill="none"/>
<path d="M143.0,166.6 L143.0,186.0" stroke="#333" stroke-width="1.04" fill="none"/>
<path d="M124.0,177.0 L140.0,169.0 L140.0,178.0 L124.0,186.0" stroke="#333" stroke-width="0.91" fill="none"/>
<ellipse cx="145.2" cy="174.5" rx="1.3" ry="1.3" transform="rotate(0 145.2 174.5)" stroke="#333" stroke-width="1.69" fill="none"/>
<ellipse cx="145.9" cy="183.0" rx="1.3" ry="1.3" transform="rotate(0 145.9 183.0)" stroke="#333" stroke-width="1.69" fill="none"/>
<circle cx="0" cy="0" r="10.30" transform="matrix(0.866 0.500 0.000 1.000 104.4 177.3)" stroke="#333" stroke-width="1.30" fill="none" vector-effect="non-scaling-stroke"/>
<path d="M99.0,170.0 L99.0,176.0 L104.0,173.0" stroke="#333" stroke-width="0.91" fill="none"/>
<circle cx="92.9" cy="160.9" r="0.9" fill="#222"/>
<circle cx="92.2" cy="165.9" r="0.9" fill="#222"/>
<circle cx="113.7" cy="172.3" r="0.9" fill="#222"/>
<circle cx="113" cy="177.3" r="0.9" fill="#222"/>
<circle cx="92.2" cy="178.8" r="0.9" fill="#222"/>
<circle cx="93.6" cy="183.8" r="0.9" fill="#222"/>
<circle cx="113" cy="191" r="0.9" fill="#222"/>
<circle cx="113.7" cy="196" r="0.9" fill="#222"/>
<circle cx="90.2" cy="234.3" r="4.1" fill="#1a1414"/>
<path d="M683.3,588.6 L838.0,503.0 L872.5,525.0 L874.2,551.0 L721.0,637.7 L718.3,611.5Z" stroke="#333" stroke-width="1.15" fill="#fff"/>
<path d="M721.0,637.7 L874.2,551.0" stroke="#333" stroke-width="1.26" fill="none"/>
<path d="M721.0,632.2 L874.2,545.5" stroke="#333" stroke-width="1.03" fill="none"/>
<path d="M872.5,525.0 L874.2,551.0" stroke="#333" stroke-width="1.15" fill="none"/>
<path d="M838.0,503.0 L872.5,525.0" stroke="#333" stroke-width="1.15" fill="none"/>
<path d="M834.0,505.0 L868.5,527.0 L868.5,551.0" stroke="#333" stroke-width="0.92" fill="none"/>
<path d="M686.0,587.1 L720.5,609.1 L720.5,624.6" stroke="#333" stroke-width="1.32" fill="none"/>
<path d="M689.3,583.8 L723.8,605.8 L723.8,619.8" stroke="#555" stroke-width="0.86" fill="none"/>
<path d="M691.5,584.1 L726.0,606.1 L726.0,621.6" stroke="#333" stroke-width="1.32" fill="none"/>
<path d="M694.8,580.8 L729.3,602.8 L729.3,616.8" stroke="#555" stroke-width="0.86" fill="none"/>
<path d="M697.0,581.0 L731.5,603.0 L731.5,618.5" stroke="#333" stroke-width="1.32" fill="none"/>
<path d="M700.3,577.7 L734.8,599.7 L734.8,613.7" stroke="#555" stroke-width="0.86" fill="none"/>
<path d="M702.5,578.0 L737.0,600.0 L737.0,615.5" stroke="#333" stroke-width="1.32" fill="none"/>
<path d="M705.8,574.7 L740.3,596.7 L740.3,610.7" stroke="#555" stroke-width="0.86" fill="none"/>
<path d="M708.0,575.0 L742.5,597.0 L742.5,612.5" stroke="#333" stroke-width="1.32" fill="none"/>
<path d="M711.3,571.6 L745.8,593.6 L745.8,607.6" stroke="#555" stroke-width="0.86" fill="none"/>
<path d="M713.5,571.9 L748.0,593.9 L748.0,609.4" stroke="#333" stroke-width="1.32" fill="none"/>
<path d="M716.8,568.6 L751.3,590.6 L751.3,604.6" stroke="#555" stroke-width="0.86" fill="none"/>
<path d="M719.0,568.9 L753.5,590.9 L753.5,606.4" stroke="#333" stroke-width="1.32" fill="none"/>
<path d="M722.3,565.5 L756.8,587.5 L756.8,601.5" stroke="#555" stroke-width="0.86" fill="none"/>
<path d="M724.5,565.8 L759.0,587.8 L759.0,603.3" stroke="#333" stroke-width="1.32" fill="none"/>
<path d="M727.8,562.5 L762.3,584.5 L762.3,598.5" stroke="#555" stroke-width="0.86" fill="none"/>
<path d="M730.0,562.8 L764.5,584.8 L764.5,600.3" stroke="#333" stroke-width="1.32" fill="none"/>
<path d="M733.3,559.5 L767.8,581.5 L767.8,595.5" stroke="#555" stroke-width="0.86" fill="none"/>
<path d="M735.5,559.7 L770.0,581.7 L770.0,597.2" stroke="#333" stroke-width="1.32" fill="none"/>
<path d="M738.8,556.4 L773.3,578.4 L773.3,592.4" stroke="#555" stroke-width="0.86" fill="none"/>
<path d="M741.0,556.7 L775.5,578.7 L775.5,594.2" stroke="#333" stroke-width="1.32" fill="none"/>
<path d="M686.0,587.1 L689.3,583.8 L691.5,584.1 L694.8,580.8 L697.0,581.0 L700.3,577.7 L702.5,578.0 L705.8,574.7 L708.0,575.0 L711.3,571.6 L713.5,571.9 L716.8,568.6 L719.0,568.9 L722.3,565.5 L724.5,565.8 L727.8,562.5 L730.0,562.8 L733.3,559.5 L735.5,559.7 L738.8,556.4 L741.0,556.7" stroke="#333" stroke-width="1.15" fill="none"/>
<path d="M777.8,536.3 L812.3,558.3 L812.3,573.8" stroke="#333" stroke-width="1.32" fill="none"/>
<path d="M780.6,533.3 L815.1,555.3 L815.1,569.3" stroke="#555" stroke-width="0.86" fill="none"/>
<path d="M782.2,533.9 L816.7,555.9 L816.7,571.4" stroke="#333" stroke-width="1.32" fill="none"/>
<path d="M785.0,530.9 L819.5,552.9 L819.5,566.9" stroke="#555" stroke-width="0.86" fill="none"/>
<path d="M786.6,531.5 L821.1,553.5 L821.1,569.0" stroke="#333" stroke-width="1.32" fill="none"/>
<path d="M789.4,528.4 L823.9,550.4 L823.9,564.4" stroke="#555" stroke-width="0.86" fill="none"/>
<path d="M790.9,529.0 L825.4,551.0 L825.4,566.5" stroke="#333" stroke-width="1.32" fill="none"/>
<path d="M793.7,526.0 L828.2,548.0 L828.2,562.0" stroke="#555" stroke-width="0.86" fill="none"/>
<path d="M795.3,526.6 L829.8,548.6 L829.8,564.1" stroke="#333" stroke-width="1.32" fill="none"/>
<path d="M798.1,523.6 L832.6,545.6 L832.6,559.6" stroke="#555" stroke-width="0.86" fill="none"/>
<path d="M799.7,524.2 L834.2,546.2 L834.2,561.7" stroke="#333" stroke-width="1.32" fill="none"/>
<path d="M802.5,521.2 L837.0,543.2 L837.0,557.2" stroke="#555" stroke-width="0.86" fill="none"/>
<path d="M804.1,521.8 L838.6,543.8 L838.6,559.3" stroke="#333" stroke-width="1.32" fill="none"/>
<path d="M806.9,518.7 L841.4,540.7 L841.4,554.7" stroke="#555" stroke-width="0.86" fill="none"/>
<path d="M808.5,519.3 L843.0,541.3 L843.0,556.8" stroke="#333" stroke-width="1.32" fill="none"/>
<path d="M811.3,516.3 L845.8,538.3 L845.8,552.3" stroke="#555" stroke-width="0.86" fill="none"/>
<path d="M812.9,516.9 L847.4,538.9 L847.4,554.4" stroke="#333" stroke-width="1.32" fill="none"/>
<path d="M815.7,513.9 L850.2,535.9 L850.2,549.9" stroke="#555" stroke-width="0.86" fill="none"/>
<path d="M817.2,514.5 L851.7,536.5 L851.7,552.0" stroke="#333" stroke-width="1.32" fill="none"/>
<path d="M820.0,511.5 L854.5,533.5 L854.5,547.5" stroke="#555" stroke-width="0.86" fill="none"/>
<path d="M821.6,512.1 L856.1,534.1 L856.1,549.6" stroke="#333" stroke-width="1.32" fill="none"/>
<path d="M824.4,509.0 L858.9,531.0 L858.9,545.0" stroke="#555" stroke-width="0.86" fill="none"/>
<path d="M826.0,509.6 L860.5,531.6 L860.5,547.1" stroke="#333" stroke-width="1.32" fill="none"/>
<path d="M828.8,506.6 L863.3,528.6 L863.3,542.6" stroke="#555" stroke-width="0.86" fill="none"/>
<path d="M830.4,507.2 L864.9,529.2 L864.9,544.7" stroke="#333" stroke-width="1.32" fill="none"/>
<path d="M833.2,504.2 L867.7,526.2 L867.7,540.2" stroke="#555" stroke-width="0.86" fill="none"/>
<path d="M834.8,504.8 L869.3,526.8 L869.3,542.3" stroke="#333" stroke-width="1.32" fill="none"/>
<path d="M777.8,536.3 L780.6,533.3 L782.2,533.9 L785.0,530.9 L786.6,531.5 L789.4,528.4 L790.9,529.0 L793.7,526.0 L795.3,526.6 L798.1,523.6 L799.7,524.2 L802.5,521.2 L804.1,521.8 L806.9,518.7 L808.5,519.3 L811.3,516.3 L812.9,516.9 L815.7,513.9 L817.2,514.5 L820.0,511.5 L821.6,512.1 L824.4,509.0 L826.0,509.6 L828.8,506.6 L830.4,507.2 L833.2,504.2 L834.8,504.8" stroke="#333" stroke-width="1.15" fill="none"/>
<path d="M741.4,551.9 L770.4,535.7 L775.3,537.9 L815.0,560.4 L815.6,576.6 L786.6,591.6 L785.5,576.6 L781.2,573.3 L741.4,556.0Z" stroke="#333" stroke-width="1.15" fill="#fff"/>
<path d="M741.4,551.9 L746.8,556.1 L775.3,537.9" stroke="#333" stroke-width="1.03" fill="none"/>
<path d="M746.8,556.1 L746.8,559.5" stroke="#333" stroke-width="0.92" fill="none"/>
<path d="M746.8,556.1 L781.2,573.3" stroke="#333" stroke-width="1.03" fill="none"/>
<path d="M781.2,573.3 L810.2,557.2 L815.0,560.4" stroke="#333" stroke-width="1.03" fill="none"/>
<path d="M781.2,573.3 L785.5,576.6 L815.0,560.4" stroke="#333" stroke-width="1.15" fill="none"/>
<path d="M785.5,576.6 L786.6,591.6" stroke="#333" stroke-width="1.15" fill="none"/>
<ellipse cx="749.5" cy="549.2" rx="1.9" ry="1.2" transform="rotate(0 749.5 549.2)" stroke="#333" stroke-width="1.72" fill="none"/>
<ellipse cx="767.2" cy="538.4" rx="1.9" ry="1.2" transform="rotate(0 767.2 538.4)" stroke="#333" stroke-width="1.72" fill="none"/>
<ellipse cx="776.4" cy="541.6" rx="1.9" ry="1.2" transform="rotate(0 776.4 541.6)" stroke="#333" stroke-width="1.72" fill="none"/>
<ellipse cx="750.6" cy="556.1" rx="1.9" ry="1.2" transform="rotate(0 750.6 556.1)" stroke="#333" stroke-width="1.72" fill="none"/>
<ellipse cx="779.0" cy="570.1" rx="1.9" ry="1.2" transform="rotate(0 779.0 570.1)" stroke="#333" stroke-width="1.72" fill="none"/>
<ellipse cx="788.7" cy="571.7" rx="1.9" ry="1.2" transform="rotate(0 788.7 571.7)" stroke="#333" stroke-width="1.72" fill="none"/>
<ellipse cx="805.4" cy="558.8" rx="1.9" ry="1.2" transform="rotate(0 805.4 558.8)" stroke="#333" stroke-width="1.72" fill="none"/>
<ellipse cx="779.0" cy="549.2" rx="2.6" ry="1.6" transform="rotate(0 779.0 549.2)" stroke="#333" stroke-width="1.49" fill="none"/>
<ellipse cx="759.2" cy="559.9" rx="2.6" ry="1.6" transform="rotate(0 759.2 559.9)" stroke="#333" stroke-width="1.49" fill="none"/>
<ellipse cx="796.8" cy="559.9" rx="2.6" ry="1.6" transform="rotate(0 796.8 559.9)" stroke="#333" stroke-width="1.49" fill="none"/>
<path d="M652.5,611.1 L682.6,593.8 L718.3,611.5 L718.3,641.2 L687.1,657.7 L652.5,641.2Z" stroke="#333" stroke-width="1.15" fill="#fff"/>
<path d="M652.5,611.1 L687.1,629.2 L718.3,611.5" stroke="#333" stroke-width="1.15" fill="none"/>
<path d="M687.1,629.2 L687.1,657.7" stroke="#333" stroke-width="1.15" fill="none"/>
<path d="M664.5,608.1 L683.3,598.3 L707.4,611.9 L688.6,621.7Z" stroke="#333" stroke-width="1.03" fill="none"/>
<path d="M682.0,600.0 L682.0,614.0" stroke="#333" stroke-width="0.80" fill="none"/>
<path d="M685.0,601.0 L685.0,616.0" stroke="#333" stroke-width="0.80" fill="none"/>
<ellipse cx="690.0" cy="617.0" rx="4.0" ry="3.0" transform="rotate(0 690.0 617.0)" stroke="#333" stroke-width="1.03" fill="none"/>
<path d="M709.0,621.0 L709.0,645.0" stroke="#333" stroke-width="0.92" fill="none"/>
<path d="M692.0,636.0 L706.0,628.0 L706.0,637.0 L692.0,645.0" stroke="#333" stroke-width="0.80" fill="none"/>
<ellipse cx="712.0" cy="632.0" rx="1.5" ry="1.5" transform="rotate(0 712.0 632.0)" stroke="#333" stroke-width="1.49" fill="none"/>
<ellipse cx="712.0" cy="641.0" rx="1.5" ry="1.5" transform="rotate(0 712.0 641.0)" stroke="#333" stroke-width="1.49" fill="none"/>
<circle cx="0" cy="0" r="10.50" transform="matrix(0.866 0.500 0.000 1.000 670.6 633.7)" stroke="#333" stroke-width="1.15" fill="none" vector-effect="non-scaling-stroke"/>
<circle cx="659.5" cy="617" r="0.9" fill="#222"/>
<circle cx="659" cy="622" r="0.9" fill="#222"/>
<circle cx="680" cy="628" r="0.9" fill="#222"/>
<circle cx="680" cy="633" r="0.9" fill="#222"/>
<circle cx="659" cy="640" r="0.9" fill="#222"/>
<circle cx="660" cy="645" r="0.9" fill="#222"/>
<circle cx="680" cy="648" r="0.9" fill="#222"/>
<circle cx="680" cy="653" r="0.9" fill="#222"/>
<circle cx="716.4" cy="663.5" r="4.1" fill="#1a1414"/>
</svg>
</body></html>
